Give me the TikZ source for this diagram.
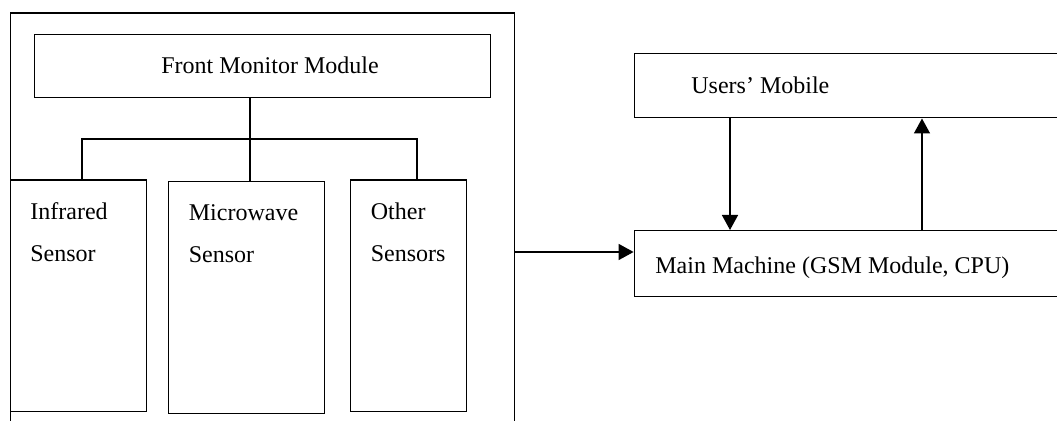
\documentclass[tikz,border=0pt]{standalone}
\usepackage{fontspec}
\setmainfont{Liberation Serif}
\usetikzlibrary{arrows.meta,positioning}
\tikzset{
    box/.style={draw,line width=0.6pt,inner sep=0pt,anchor=north west},
    caption/.style={inner sep=0pt,anchor=base west,align=left,font=\fontsize{12}{21}\selectfont},
    link/.style={line width=0.6pt},
    flow/.style={-{Triangle[length=7.5pt,width=8pt]},line width=0.75pt}
}

\begin{document}
\begin{tikzpicture}[x=0.5pt,y=-0.5pt]

                \useasboundingbox (0,0) rectangle (1057,421);
                \clip (0,0) rectangle (1057,421);

                % left part (sizes in pt, one pixel is half a point)
                \node[box,minimum width=252pt,minimum height=220pt] (outer) at (10,12.5) {};
                \node[box,minimum width=228pt,minimum height=31.5pt] (front) at (34,34)   {};
                \node[caption,anchor=base] (front text) at (270,73.6) {Front Monitor Module};

                \node[box,minimum width=68pt,minimum height=115.75pt] (infrared)  at (10,179.5)  {};
                \node[box,minimum width=78pt,minimum height=116pt]    (microwave) at (168,181)   {};
                \node[box,minimum width=57.75pt,minimum height=115.75pt] (other)  at (350,179.5) {};

                % last baseline of each two-line caption
                \node[caption] (infrared text)  at ([shift={(20,82.5)}]infrared.north west)  {Infrared\\Sensor};
                \node[caption] (microwave text) at ([shift={(20.5,82)}]microwave.north west) {Microwave\\Sensor};
                \node[caption] (other text)     at ([shift={(20.5,82.5)}]other.north west)   {Other\\Sensors};

                \coordinate (bus left)  at (82,139);
                \coordinate (bus mid)   at (250,139);
                \coordinate (bus right) at (417,139);

                \draw[link] (front.south -| bus mid) -- (bus mid);
                \draw[link] (infrared.north -| bus left) -- (bus left) -- (bus right) -- (other.north -| bus right);
                \draw[link] (bus mid) -- (microwave.north -| bus mid);

                % right part
                \node[box,minimum width=220pt,minimum height=32pt]   (mobile)  at (633.6,53.3) {};
                \node[caption] (mobile text) at (691,94) {Users’ Mobile};
                \node[box,minimum width=220pt,minimum height=32.8pt] (machine) at (633.6,230) {};
                \node[caption] (machine text) at (655,273.6) {Main Machine (GSM Module, CPU)};

                \coordinate (down) at (730,0);
                \coordinate (up)   at (922,0);

                \draw[flow] (mobile.south -| down) -- (machine.north -| down);
                \draw[flow] (machine.north -| up) -- (mobile.south -| up);
                \draw[flow] (outer.east |- 0,252) -- (machine.west |- 0,252);

            \end{tikzpicture}
\end{document}
